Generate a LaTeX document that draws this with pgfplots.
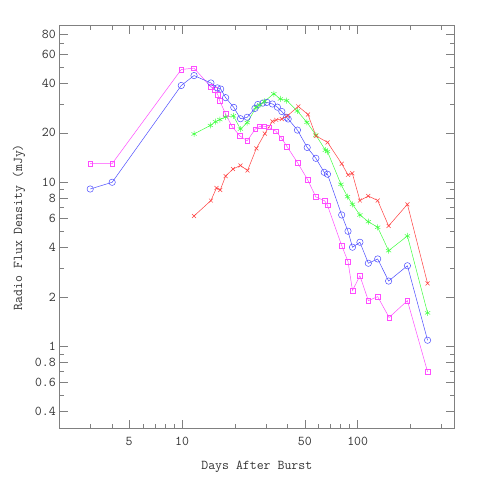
\documentclass[border=0pt]{standalone}
\usepackage{pgfplots}
\pgfplotsset{compat=1.18}
\definecolor{cmag}{rgb}{1,0.3,1}
\definecolor{cblu}{rgb}{0.3,0.3,1}
\definecolor{cgrn}{rgb}{0.25,1,0.25}
\definecolor{cred}{rgb}{1,0.25,0.25}
\begin{document}
\begin{tikzpicture}
\useasboundingbox (-59.3bp,-51.3bp) rectangle (420.7bp,428.7bp);
\begin{axis}[xmode=log,ymode=log,scale only axis,width=395bp,height=403bp,
at={(0,0)},anchor=south west,
xmin=2,xmax=355,ymin=0.315,ymax=90,
xtick={5,10,50,100},xticklabels={5,10,50,100},
minor xtick={3,4,6,7,8,9,20,30,40,60,70,80,90,200,300},
ytick={0.4,0.6,0.8,1,2,4,6,8,10,20,40,60,80},
yticklabels={0.4,0.6,0.8,1,2,4,6,8,10,20,40,60,80},
minor ytick={0.5,0.7,0.9,3,5,7,9,30,50,70},
tick align=inside,major tick length=8.5bp,minor tick length=4.5bp,
axis line style={black!50,line width=0.6bp},
every tick/.style={black!50,line width=0.6bp},
font=\fontsize{13.5}{15}\selectfont\ttfamily,
tick label style={black!80},label style={black!80},
xticklabel style={anchor=base,yshift=-16.3bp},
xlabel style={at={(axis description cs:0.5,-0.1017)},anchor=base},
ylabel style={at={(axis description cs:-0.0944,0.5)},anchor=base},
xlabel={Days After Burst},ylabel={Radio Flux Density (mJy)},
every axis plot/.append style={line width=0.5bp,mark options={solid,line width=0.5bp}}]
% magenta squares
\addplot[cmag,mark=square,mark size=2.3bp] coordinates {
(3.0,13.0)(4.0,13.0)(9.9,48.7)(11.7,49.6)(14.6,38.1)(15.4,36.5)(16.0,34.1)(16.4,31.3)
(17.7,26.1)(19.2,22.0)(21.3,19.2)(23.5,17.9)(26.1,21.1)(27.7,21.9)(29.2,22.0)(31.2,21.6)
(34.2,20.5)(36.8,18.6)(39.6,16.5)(45.4,13.2)(51.8,10.4)(57.8,8.14)(64.9,7.71)(67.3,7.24)
(81.1,4.11)(88.1,3.29)(93.4,2.19)(103,2.69)(115,1.90)(130,2.01)(151,1.50)(192,1.90)(250,0.70)};
% blue circles
\addplot[cblu,mark=o,mark size=3.2bp] coordinates {
(3.0,9.1)(4.0,10.0)(9.9,38.9)(11.7,44.7)(14.6,40.3)(15.9,37.6)(16.6,37.0)(17.7,32.8)
(19.7,28.6)(21.5,24.4)(23.5,24.9)(26.0,28.2)(27.0,29.8)(28.9,30.4)(30.4,30.7)(32.7,30.0)
(34.9,28.7)(37.0,27.0)(39.3,24.9)(40.2,24.3)(45.4,20.8)(51.6,16.3)(57.8,14.0)(64.5,11.5)
(67.3,11.2)(81.1,6.32)(88.1,5.03)(93.4,4.02)(103,4.31)(115,3.21)(130,3.41)(150,2.50)
(192,3.10)(250,1.09)};
% green asterisks
\addplot[cgrn,mark=asterisk,mark size=3bp] coordinates {
(11.7,19.7)(14.5,22.2)(15.5,23.4)(16.4,24.1)(17.7,25.0)(19.6,25.4)(21.5,21.1)(23.5,23.1)
(26.4,28.6)(27.7,29.6)(29.4,31.1)(33.3,34.6)(36.3,32.2)(39.4,31.5)(45.3,27.2)(51.4,23.2)
(57.8,19.4)(65.5,15.7)(67.3,15.4)(80.3,9.72)(87.5,8.17)(93.4,7.34)(103,6.32)(115,5.75)
(130,5.32)(150,3.83)(192,4.71)(250,1.60)};
% red crosses
\addplot[cred,mark=x,mark size=2.8bp] coordinates {
(11.7,6.23)(14.6,7.74)(15.7,9.23)(16.5,8.98)(17.7,10.9)(19.5,12.05)(21.5,12.66)(23.6,11.8)
(26.5,16.1)(29.6,19.8)(32.7,23.5)(34.4,24.0)(37.0,24.3)(39.8,25.4)(45.9,29.0)(52.1,25.9)
(57.8,19.2)(67.4,17.5)(81.1,12.97)(88.1,11.1)(93.2,11.35)(103,7.74)(115,8.25)(130,7.74)
(150,5.42)(192,7.34)(250,2.42)};
\end{axis}
\end{tikzpicture}
\end{document}
